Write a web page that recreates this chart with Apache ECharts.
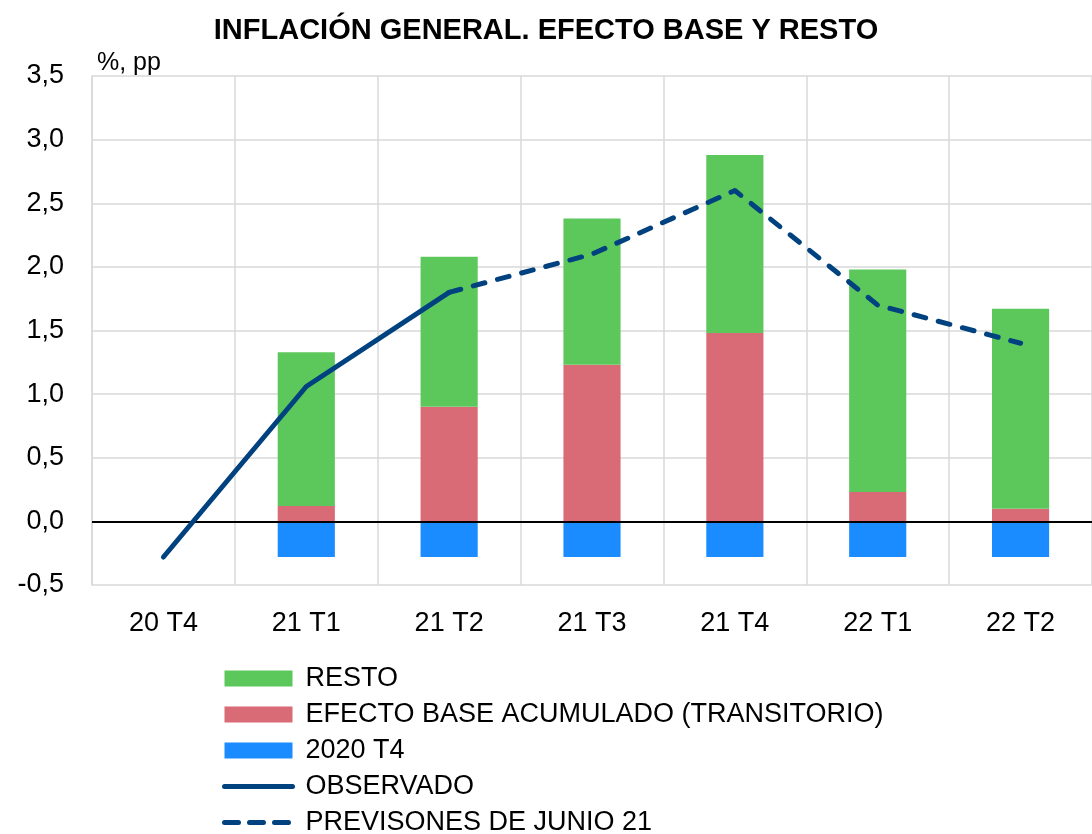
<!DOCTYPE html>
<html>
<head>
<meta charset="utf-8">
<script src="https://cdn.jsdelivr.net/npm/echarts@6/dist/echarts.min.js"></script>
<style>
  html, body { margin: 0; padding: 0; background: #fff; }
  #chart { width: 1092px; height: 834px; }
</style>
</head>
<body>
<div id="chart"></div>
<script>
// trimestres
const categories = ['20 T4', '21 T1', '21 T2', '21 T3', '21 T4', '22 T1', '22 T2'];
// componentes de la inflación (pp)
const resto = ['-', 1.21, 1.18, 1.15, 1.40, 1.75, 1.57];
const efectoBase = ['-', 0.12, 0.90, 1.23, 1.48, 0.23, 0.10];
const base2020 = ['-', -0.28, -0.28, -0.28, -0.28, -0.28, -0.28];
// inflación general (%)
const observado = [-0.28, 1.06, 1.80, '-', '-', '-', '-'];
const previsiones = ['-', '-', 1.80, 2.10, 2.60, 1.70, 1.40];

const font = 'Liberation Sans, Arial, sans-serif';
const lineBlue = '#00427f';

const chart = echarts.init(document.getElementById('chart'));

const option = {
  backgroundColor: '#fff',
  animation: false,
  textStyle: { fontFamily: font, color: '#000' },
  title: {
    text: 'INFLACIÓN GENERAL. EFECTO BASE Y RESTO',
    left: 'center',
    top: 11,
    textStyle: { fontSize: 29, fontWeight: 'bold', color: '#000', fontFamily: font }
  },
  legend: {
    orient: 'vertical',
    left: 222,
    top: 665,
    height: 200,
    padding: 0,
    itemWidth: 68,
    itemHeight: 16,
    itemGap: 9,
    textStyle: { fontSize: 27, color: '#000', padding: [0, 0, 0, 8] },
    data: [
      { name: 'RESTO', icon: 'rect' },
      { name: 'EFECTO BASE ACUMULADO (TRANSITORIO)', icon: 'rect' },
      { name: '2020 T4', icon: 'rect' },
      {
        name: 'OBSERVADO',
        itemStyle: { opacity: 0 },
        lineStyle: { color: lineBlue, width: 5, cap: 'round' }
      },
      {
        name: 'PREVISONES DE JUNIO 21',
        itemStyle: { opacity: 0 },
        lineStyle: { color: lineBlue, width: 5, type: [14, 11], cap: 'round' }
      }
    ]
  },
  grid: { left: 92, right: -6, top: 76, bottom: 249 },
  xAxis: {
    type: 'category',
    data: categories,
    axisLine: { show: false },
    axisTick: { show: false },
    axisLabel: { fontSize: 27, color: '#000', margin: 25 },
    splitLine: { show: true, lineStyle: { color: '#d9d9d9', width: 1.5 } }
  },
  yAxis: {
    type: 'value',
    min: -0.5,
    max: 3.5,
    interval: 0.5,
    name: '%, pp',
    nameLocation: 'end',
    nameGap: 0,
    nameTextStyle: { fontSize: 25, color: '#000', align: 'left', verticalAlign: 'bottom', padding: [0, 0, 0, 5] },
    axisLine: { show: true, lineStyle: { color: '#d9d9d9', width: 1.5 } },
    axisTick: { show: false },
    axisLabel: {
      fontSize: 27,
      color: '#000',
      margin: 28,
      formatter: v => v.toFixed(1).replace('.', ',')
    },
    splitLine: { show: true, lineStyle: { color: '#d9d9d9', width: 1.5 } }
  },
  series: [
    {
      name: 'EFECTO BASE ACUMULADO (TRANSITORIO)',
      type: 'bar',
      stack: 'total',
      barWidth: '40%',
      itemStyle: { color: '#d96b77' },
      data: efectoBase
    },
    {
      name: 'RESTO',
      type: 'bar',
      stack: 'total',
      barWidth: '40%',
      itemStyle: { color: '#5cc85c' },
      data: resto
    },
    {
      name: '2020 T4',
      type: 'bar',
      stack: 'total',
      barWidth: '40%',
      itemStyle: { color: '#1a8cff' },
      data: base2020,
      markLine: {
        silent: true,
        symbol: 'none',
        label: { show: false },
        lineStyle: { color: '#000', width: 2, type: 'solid' },
        data: [{ yAxis: 0 }]
      }
    },
    {
      name: 'OBSERVADO',
      type: 'line',
      symbol: 'none',
      z: 5,
      lineStyle: { color: lineBlue, width: 5, cap: 'round', join: 'round' },
      itemStyle: { color: lineBlue },
      data: observado
    },
    {
      name: 'PREVISONES DE JUNIO 21',
      type: 'line',
      symbol: 'none',
      z: 5,
      lineStyle: { color: lineBlue, width: 5, type: [12, 13], cap: 'round', join: 'round' },
      itemStyle: { color: lineBlue },
      data: previsiones
    }
  ]
};

chart.setOption(option);
</script>
</body>
</html>
